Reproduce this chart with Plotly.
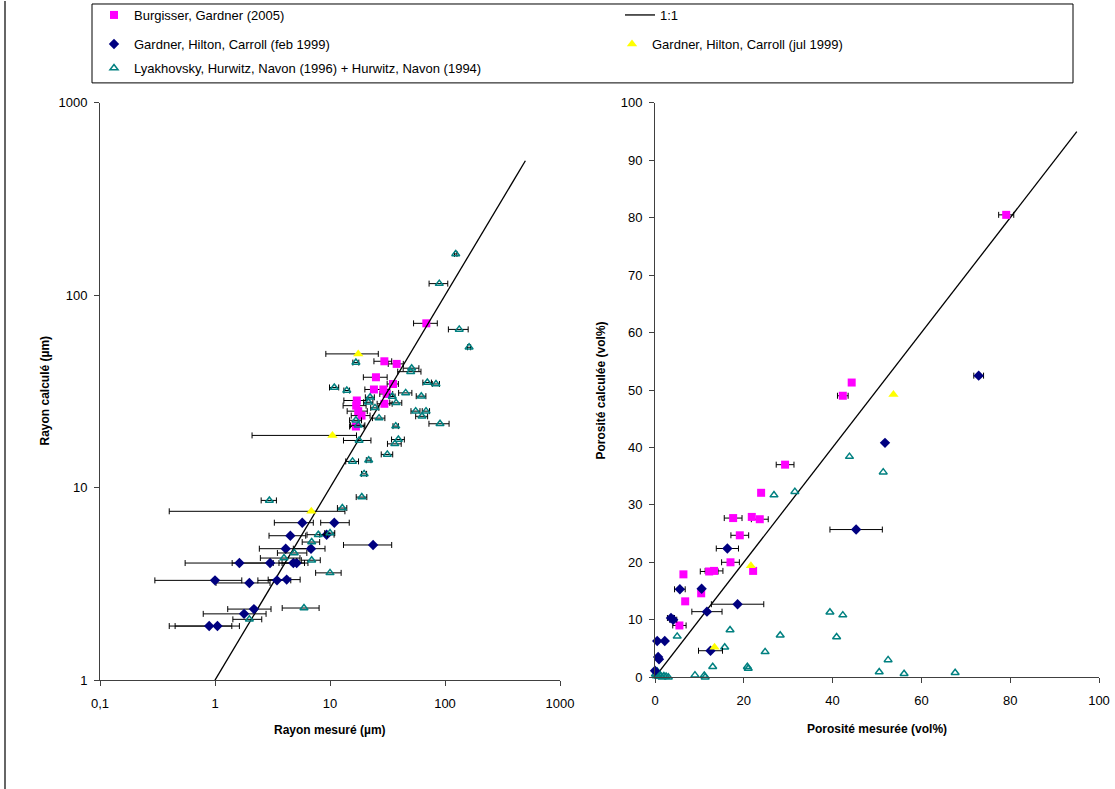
import plotly.graph_objects as go

# ---------------- Left panel: radius (µm), log-log ----------------
burg_r_x = [68.8, 29.7, 38.0, 25.1, 35.3, 24.1, 29.1, 31.1, 17.1, 16.9, 29.7, 17.6, 18.8, 16.8]
burg_r_y = [71.5, 45.4, 44.0, 37.5, 34.6, 32.4, 32.4, 30.7, 28.4, 26.7, 27.3, 25.0, 23.7, 20.8]
burg_r_em = [15.5, 5.6, 5.9, 5.6, 3.9, 4.0, 4.0, 4.0, 3.9, 3.9, 4.0, 3.5, 3.5, 2.0]
burg_r_ep = [16.9, 4.7, 5.4, 6.3, 4.0, 4.0, 4.0, 4.0, 3.7, 3.7, 5.0, 3.5, 3.5, 3.0]

feb_r_x = [5.74, 10.9, 9.35, 4.52, 23.7, 4.12, 6.84, 1.63, 3.01, 4.80, 5.13, 1.00, 1.99, 3.46, 4.20, 2.18, 1.79, 0.89, 1.05]
feb_r_y = [6.58, 6.58, 5.70, 5.63, 5.04, 4.82, 4.82, 4.06, 4.06, 4.06, 4.06, 3.30, 3.20, 3.30, 3.33, 2.34, 2.21, 1.91, 1.91]
feb_r_em = [2.46, 2.6, 1.2, 1.57, 10.6, 1.69, 2.04, 1.08, 1.6, 1.2, 1.3, 0.70, 0.97, 1.1, 1.3, 0.89, 1.0, 0.49, 0.60]
feb_r_ep = [1.42, 3.8, 1.5, 1.63, 10.7, 2.36, 2.21, 1.58, 1.6, 1.2, 1.3, 0.71, 1.02, 1.1, 1.3, 0.89, 0.99, 0.51, 0.58]

jul_r_x = [17.6, 10.5, 6.88]
jul_r_y = [49.6, 18.7, 7.54]
jul_r_em = [8.4, 8.4, 6.48]
jul_r_ep = [8.7, 6.5, 6.6]

lya_r_x = [124, 89.2, 133, 162, 16.8, 51.3, 50.3, 70.2, 83.5, 10.9, 14.0, 45.5, 62.2, 22.3, 34.8,
           21.6, 37.6, 24.6, 55.6, 68.4, 63.1, 90.5, 26.7, 16.8, 17.6, 37.3, 39.3, 17.9, 36.6, 31.5,
           15.7, 21.7, 19.8, 18.9, 2.97, 12.8, 7.91, 10.0, 6.93, 4.89, 3.98, 6.93, 10.0, 5.94, 1.99]
lya_r_y = [164, 115, 66.5, 53.7, 44.7, 41.8, 40.1, 35.2, 34.6, 33.2, 32.0, 31.1, 29.9, 29.5, 29.8,
           27.8, 27.6, 26.0, 25.0, 25.0, 23.5, 21.5, 23.0, 22.4, 21.1, 20.9, 17.8, 17.6, 16.9, 14.9,
           13.7, 13.9, 11.8, 8.94, 8.59, 7.84, 5.70, 5.81, 5.22, 4.58, 4.31, 4.20, 3.61, 2.37, 2.07]
lya_r_err = [3, 16.5, 26, 5, 1, 8, 11.5, 6, 6, 1, 0.8, 6, 6, 2, 2,
             2, 4.5, 2, 5, 5, 7.5, 18, 3.3, 2, 2.5, 2, 5, 4.8, 5, 3.6,
             2, 1, 1, 2, 0.45, 1.2, 1.6, 1, 1.2, 1.4, 1.5, 1.3, 2.5, 2.1, 0.56]

one_x = [1, 500]
one_y = [1, 500]

# ---------------- Right panel: porosity (vol%) ----------------
burg_p_x = [79.1, 44.3, 42.3, 29.3, 23.9, 17.6, 21.8, 23.6, 19.1, 17.0, 22.1, 12.2, 13.3, 6.4, 10.4, 6.8, 5.5]
burg_p_y = [80.5, 51.3, 49.0, 37.0, 32.1, 27.7, 27.9, 27.5, 24.7, 20.0, 18.5, 18.4, 18.5, 17.9, 14.6, 13.2, 9.0]
burg_p_err = [1.7, 0, 1.2, 2.0, 0, 2.0, 0, 1.9, 2.0, 2.0, 0, 2.0, 2.0, 0, 0, 0, 1.5]

feb_p_x = [72.9, 51.8, 45.3, 16.3, 5.6, 10.5, 18.6, 11.7, 3.6, 4.1, 0.5, 2.2, 0.7, 0.9, 12.5, 0.0]
feb_p_y = [52.5, 40.8, 25.7, 22.4, 15.3, 15.4, 12.7, 11.4, 10.3, 10.0, 6.3, 6.3, 3.5, 3.1, 4.6, 1.1]
feb_p_err = [1.1, 0, 5.9, 2.5, 1.2, 0, 5.9, 3.4, 0.8, 0.8, 0, 0, 0, 0, 2.7, 0]

jul_p_x = [53.7, 21.6, 13.4]
jul_p_y = [49.2, 19.4, 5.2]

lya_p_x = [43.8, 51.4, 26.8, 31.5, 39.4, 42.3, 16.9, 5.0, 28.2, 40.9, 15.7, 24.8, 13.0, 20.8, 21.0,
           9.0, 11.1, 11.3, 50.5, 52.5, 56.1, 67.6, 0.3, 0.8, 1.2, 1.6, 2.0, 2.5, 0.5, 0.1, 3.0]
lya_p_y = [38.4, 35.7, 31.7, 32.3, 11.3, 10.8, 8.2, 7.1, 7.3, 7.0, 5.2, 4.4, 1.8, 1.8, 1.5,
           0.35, 0.3, 0.0, 0.9, 3.0, 0.6, 0.75, 0.2, 0.1, 0.3, 0.0, 0.2, 0.1, 1.0, 0.5, 0.0]

one_p = [0, 95]

FONT = "Arial, Liberation Sans, sans-serif"
MAG, NAVY, YEL, TEAL = "#FF00FF", "#000080", "#FFFF00", "#008080"

fig = go.Figure()


def errx(plus, minus=None):
    d = dict(type="data", array=plus, color="black", thickness=1, width=3)
    if minus is not None:
        d["arrayminus"] = minus
        d["symmetric"] = False
    return d


TEAL_MK = dict(symbol="triangle-up-open", size=7, color=TEAL, line=dict(width=1.5, color=TEAL))

fig.add_trace(go.Scatter(x=burg_r_x, y=burg_r_y, mode="markers", name="Burgisser, Gardner (2005)",
                         marker=dict(symbol="square", size=8, color=MAG),
                         error_x=errx(burg_r_ep, burg_r_em), legendgroup="b", legend="legend",
                         cliponaxis=False, xaxis="x", yaxis="y"))
fig.add_trace(go.Scatter(x=one_x, y=one_y, mode="lines", name="1:1",
                         line=dict(color="black", width=1.3), legendgroup="o", legend="legend2",
                         xaxis="x", yaxis="y"))
fig.add_trace(go.Scatter(x=feb_r_x, y=feb_r_y, mode="markers", name="Gardner, Hilton, Carroll (feb 1999)",
                         marker=dict(symbol="diamond", size=8, color=NAVY),
                         error_x=errx(feb_r_ep, feb_r_em), legendgroup="f", legend="legend3",
                         cliponaxis=False, xaxis="x", yaxis="y"))
fig.add_trace(go.Scatter(x=jul_r_x, y=jul_r_y, mode="markers", name="Gardner, Hilton, Carroll (jul 1999)",
                         marker=dict(symbol="triangle-up", size=9, color=YEL),
                         error_x=errx(jul_r_ep, jul_r_em), legendgroup="j", legend="legend4",
                         cliponaxis=False, xaxis="x", yaxis="y"))
fig.add_trace(go.Scatter(x=lya_r_x, y=lya_r_y, mode="markers",
                         name="Lyakhovsky, Hurwitz, Navon (1996) + Hurwitz, Navon (1994)",
                         marker=TEAL_MK, error_x=errx(lya_r_err), legendgroup="l", legend="legend5",
                         cliponaxis=False, xaxis="x", yaxis="y"))

# right panel (no legend entries)
fig.add_trace(go.Scatter(x=one_p, y=one_p, mode="lines", line=dict(color="black", width=1.3),
                         showlegend=False, legendgroup="o", xaxis="x2", yaxis="y2"))
fig.add_trace(go.Scatter(x=lya_p_x, y=lya_p_y, mode="markers", marker=TEAL_MK,
                         showlegend=False, legendgroup="l", cliponaxis=False, xaxis="x2", yaxis="y2"))
fig.add_trace(go.Scatter(x=burg_p_x, y=burg_p_y, mode="markers",
                         marker=dict(symbol="square", size=8, color=MAG), error_x=errx(burg_p_err),
                         showlegend=False, legendgroup="b", cliponaxis=False, xaxis="x2", yaxis="y2"))
fig.add_trace(go.Scatter(x=feb_p_x, y=feb_p_y, mode="markers",
                         marker=dict(symbol="diamond", size=8, color=NAVY), error_x=errx(feb_p_err),
                         showlegend=False, legendgroup="f", cliponaxis=False, xaxis="x2", yaxis="y2"))
fig.add_trace(go.Scatter(x=jul_p_x, y=jul_p_y, mode="markers",
                         marker=dict(symbol="triangle-up", size=9, color=YEL),
                         showlegend=False, legendgroup="j", cliponaxis=False, xaxis="x2", yaxis="y2"))

W, H = 1115, 789
ax_common = dict(showgrid=False, zeroline=False, showline=True, linecolor="#404040", linewidth=1,
                 ticks="outside", ticklen=5, tickcolor="#404040",
                 tickfont=dict(family=FONT, size=13, color="black"), automargin=False)
x_common = dict(ticklabelstandoff=6, **ax_common)
y_common = dict(ticklabelstandoff=4, **ax_common)


def leg(px, py):
    return dict(x=px / W, y=1 - py / H, xanchor="left", yanchor="middle", orientation="h",
                bgcolor="rgba(0,0,0,0)", font=dict(family=FONT, size=13, color="black"))


def title(text, px, py, angle=0):
    return dict(text=f"<b>{text}</b>", x=px / W, y=1 - py / H, xref="paper", yref="paper",
                xanchor="center", yanchor="middle", showarrow=False, textangle=angle,
                font=dict(family=FONT, size=12, color="black"))


fig.update_layout(
    width=W, height=H, margin=dict(l=0, r=0, t=0, b=0),
    paper_bgcolor="white", plot_bgcolor="white",
    font=dict(family=FONT, size=13, color="black"),
    xaxis=dict(type="log", range=[-1, 3], domain=[100 / W, 560 / W], anchor="y",
               tickvals=[0.1, 1, 10, 100, 1000], ticktext=["0,1", "1", "10", "100", "1000"], **x_common),
    yaxis=dict(type="log", range=[0, 3], domain=[1 - 680 / H, 1 - 102 / H], anchor="x",
               tickvals=[1, 10, 100, 1000], ticktext=["1", "10", "100", "1000"], **y_common),
    xaxis2=dict(range=[0, 100], domain=[655 / W, 1099 / W], anchor="y2", tick0=0, dtick=20, **x_common),
    yaxis2=dict(range=[0, 100], domain=[1 - 677 / H, 1 - 102 / H], anchor="x2", tick0=0, dtick=10, **y_common),
    legend=leg(94, 14),
    legend2=leg(620, 14),
    legend3=leg(94, 44),
    legend4=leg(612, 44),
    legend5=leg(94, 68),
    shapes=[
        dict(type="rect", xref="paper", yref="paper", x0=92 / W, x1=1073 / W, y0=1 - 82 / H, y1=1 - 3 / H,
             line=dict(color="black", width=1)),
        dict(type="line", xref="paper", yref="paper", x0=5 / W, x1=5 / W, y0=0, y1=1,
             line=dict(color="#333333", width=1.5)),
    ],
    annotations=[
        title("Rayon mesuré (µm)", 330, 730),
        title("Rayon calculé (µm)", 45, 390, -90),
        title("Porosité mesurée (vol%)", 877, 729),
        title("Porosité calculée (vol%)", 601, 390, -90),
    ],
)

fig.write_html("out.html", config={"displayModeBar": False},
               post_script="document.body.style.margin='0';")
